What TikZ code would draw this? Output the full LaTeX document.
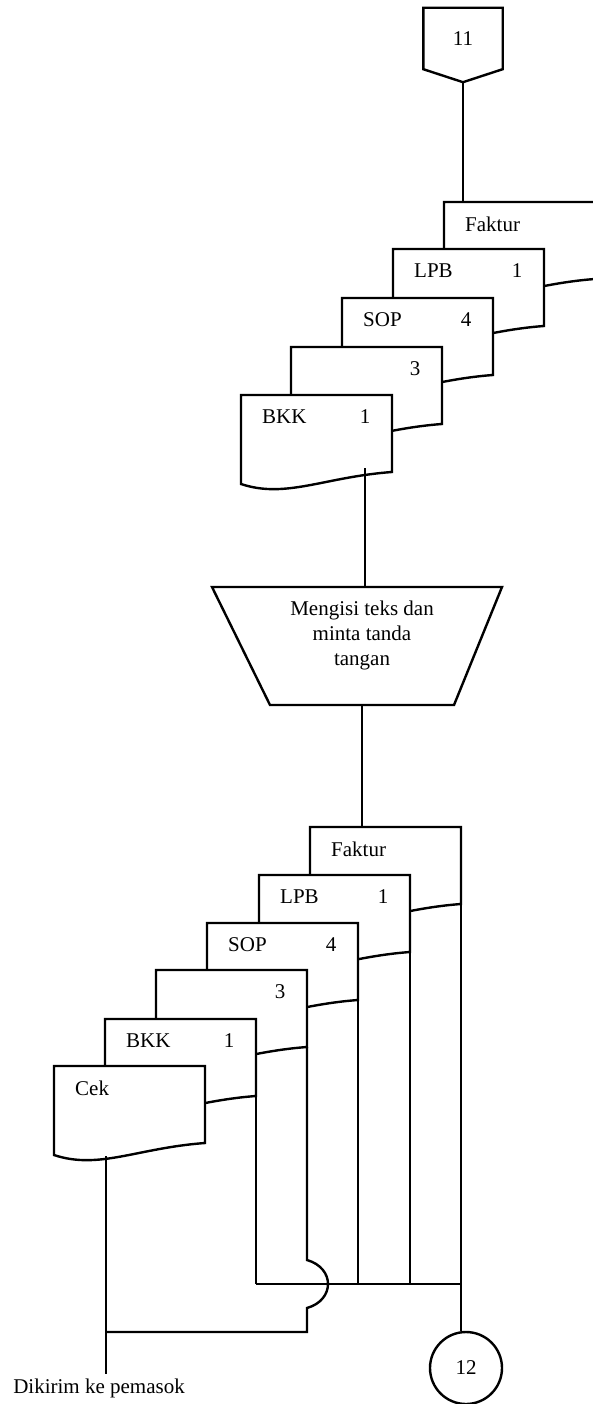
\documentclass[tikz,border=0pt]{standalone}
\usepackage{fontspec}
\setmainfont{Liberation Serif}
\usetikzlibrary{calc}

\begin{document}
\begin{tikzpicture}[x=1pt, y=-1pt, line width=2.4pt,
  every node/.style={font=\fontsize{21}{25}\selectfont},
  dok/.style={rectangle, minimum width=151pt, minimum height=77pt, anchor=north west, inner sep=0pt, outer sep=0pt},
  teks/.style={anchor=west, inner sep=0pt},
  konektor/.style={rectangle, minimum width=77pt, minimum height=59pt, inner sep=0pt},
  proses/.style={align=center, inner sep=0pt},
  lingkaran/.style={circle, draw, minimum size=72pt, inner sep=0pt}]
  \useasboundingbox (0,0) rectangle (593,1404);
  \clip (0,0) rectangle (593,1404);
  \fill[white] (0,0) rectangle (593,1404);

  % penghubung halaman 11
  \node[konektor] (k11) at (463,38.5) {11};
  \draw (k11.south west) -- (k11.north west) -- (k11.north east) -- (k11.south east) -- ($(k11.south)+(0,13)$) coordinate (k11 tip) -- cycle;

  % tumpukan dokumen atas
  \foreach \n/\x/\y/\lab/\num in {af/444/202/Faktur/{}, al/393/249/LPB/1, as/342/298/SOP/4, a3/291/347/{}/3, ab/241/395/BKK/1} {
    \node[dok] (\n) at (\x,\y) {};
    \filldraw[fill=white] (\n.north west) -- (\n.north east) -- (\n.south east) .. controls +(-68,5) and +(45,15) .. ($(\n.south west)+(0,12)$) -- cycle;
    \node[teks] (\n-l) at ($(\n.north west)+(20,22)$) {\lab};
    \node (\n-n) at ($(\n.north west)+(124,22)$) {\num};
  }
  \coordinate (ab out) at ($(ab.north west)+(124,73)$);
  \path (k11 tip) edge (k11 tip |- af.north);

  % proses manual
  \node[proses] (isi) at (362,635) {Mengisi teks dan\\minta tanda\\tangan};
  \draw (isi.center) ++(-150,-48) coordinate (isi nw) -- ++(290,0) coordinate (isi ne) -- ++(-48,118) coordinate (isi se) -- ++(-184,0) coordinate (isi sw) -- cycle;
  \path (ab out) edge (ab out |- isi ne);

  % tumpukan dokumen bawah
  \foreach \n/\x/\y/\lab/\num in {bf/310/827/Faktur/{}, bl/259/875/LPB/1, bs/207/923/SOP/4, b3/156/970/{}/3, bb/105/1019/BKK/1, bc/54/1066/Cek/{}} {
    \node[dok] (\n) at (\x,\y) {};
    \filldraw[fill=white] (\n.north west) -- (\n.north east) -- (\n.south east) .. controls +(-68,5) and +(45,15) .. ($(\n.south west)+(0,12)$) -- cycle;
    \node[teks] (\n-l) at ($(\n.north west)+(20,22)$) {\lab};
    \node (\n-n) at ($(\n.north west)+(124,22)$) {\num};
  }
  \coordinate (gabung) at (0,1284);
  \coordinate (kirim y) at (0,1332);
  \coordinate (cek out) at ($(bc.south west)+(52,13)$);

  \node[lingkaran] (c12) at (466,1368) {12};
  \node (kirim) at (99,1388) {Dikirim ke pemasok};

  \path (isi.center |- isi se) edge (isi.center |- bf.north);
  \foreach \n in {bf, bl, bs, bb} \path (\n.south east) edge (\n.south east |- gabung);
  \draw (bb.south east |- gabung) -- (bf.south east |- gabung) -- (bf.south east |- c12.north);
  \draw (b3.south east) -- ($(b3.south east |- gabung)+(0,-24)$) .. controls +(28,8) and +(28,-8) .. ($(b3.south east |- gabung)+(0,24)$) -- (b3.south east |- kirim y) -- (cek out |- kirim y);
  \path (cek out) edge (cek out |- kirim.north);
\end{tikzpicture}
\end{document}
